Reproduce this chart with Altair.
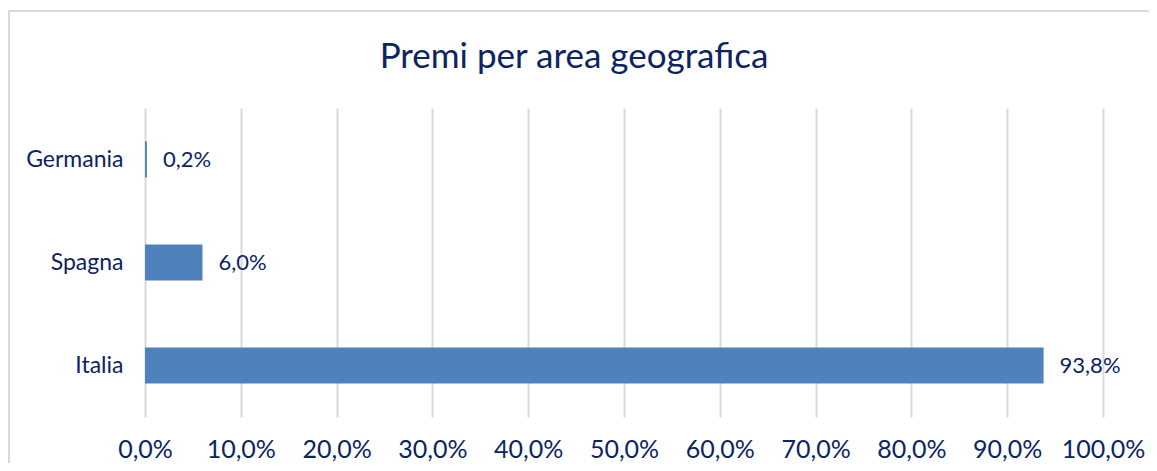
import altair as alt
import pandas as pd

categories = ["Germania", "Spagna", "Italia"]
values = [0.2, 6.0, 93.8]
tick_values = [0, 10, 20, 30, 40, 50, 60, 70, 80, 90, 100]

NAVY = "#0c2461"
BAR = "#4f81bd"
GRID = "#d9d9d9"
FONT = "Lato"

df = pd.DataFrame({"area": categories, "premi": values})

y_enc = alt.Y("area:N", sort=categories, title=None,
              scale=alt.Scale(paddingInner=0.65, paddingOuter=0.325),
              axis=alt.Axis(domain=False, ticks=False, labelPadding=22,
                            labelFont=FONT, labelFontSize=23, labelColor=NAVY,
                            grid=False))
x_enc = alt.X("premi:Q", title=None,
              scale=alt.Scale(domain=[0, 100], nice=False),
              axis=alt.Axis(values=tick_values, domain=False, ticks=False,
                            labelPadding=20, labelFont=FONT, labelFontSize=25,
                            labelColor=NAVY, grid=True, gridColor=GRID,
                            gridWidth=2, labelFlush=False, labelOverlap=False,
                            labelExpr="replace(format(datum.value, '.1f'), '.', ',') + '%'"))

bars = alt.Chart(df).mark_bar(color=BAR).encode(y=y_enc, x=x_enc)

text = alt.Chart(df).transform_calculate(
    lbl="replace(format(datum.premi, '.1f'), '.', ',') + '%'"
).mark_text(align="left", baseline="middle", dx=16, font=FONT,
            fontSize=22, color=NAVY).encode(
    y=alt.Y("area:N", sort=categories),
    x=alt.X("premi:Q"),
    text="lbl:N",
)

frame = alt.Chart(alt.Data(values=[{"k": 1}])).mark_rect(
    fill=None, stroke=GRID, strokeWidth=2
).encode(
    x=alt.value(-136), x2=alt.value(1300),
    y=alt.value(-97), y2=alt.value(700),
)

chart = alt.layer(frame, bars, text).properties(
    width=958, height=309,
    title=alt.TitleParams("Premi per area geografica", font=FONT, fontSize=35,
                          fontWeight="normal", color=NAVY, anchor="middle",
                          frame="group", dx=-50, offset=-65),
    autosize=alt.AutoSizeParams(type="none"),
    padding={"left": 137, "top": 100, "right": 46, "bottom": 46},
).configure_view(stroke=None)

chart.save("out.html", embed_options={"renderer": "svg", "actions": False})
